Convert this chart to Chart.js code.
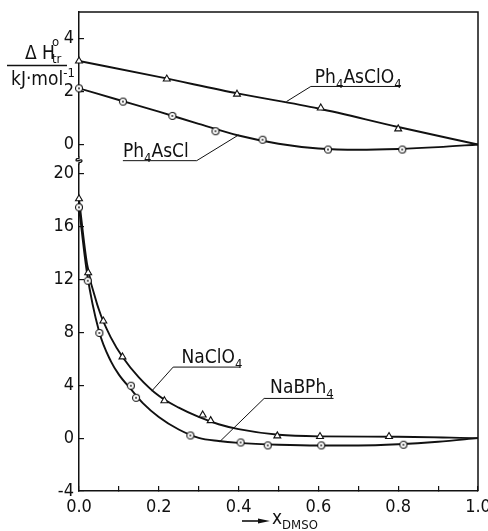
<!DOCTYPE html>
<html>
<head>
<meta charset="utf-8">
<script src="https://cdn.jsdelivr.net/npm/chart.js@4/dist/chart.umd.min.js"></script>
<style>
  html, body { margin: 0; padding: 0; background: #fff; }
  #chart { display: block; }
</style>
</head>
<body>
<canvas id="chart" width="488" height="531"></canvas>
<script>
// x axis: mole fraction of DMSO
const X_TICKS = [0, 0.1, 0.2, 0.3, 0.4, 0.5, 0.6, 0.7, 0.8, 0.9, 1.0]
const TOP_TICKS = [0, 2, 4]
const BOTTOM_TICKS = [-4, 0, 4, 8, 12, 16, 20]

// upper panel - measured points
const asclo4X = [0, 0.22, 0.396, 0.606, 0.80]
const asclo4Y = [3.15, 2.47, 1.90, 1.38, 0.59]
const asclX = [0, 0.11, 0.234, 0.342, 0.46, 0.624, 0.81]
const asclY = [2.12, 1.62, 1.08, 0.50, 0.18, -0.19, -0.19]

// upper panel - fitted curves
const asclo4CurveX = [0, 0.2, 0.4, 0.6, 0.8, 1.0]
const asclo4CurveY = [3.15, 2.55, 1.92, 1.36, 0.66, 0]
const asclCurveX = [0, 0.1, 0.2, 0.3, 0.4, 0.5, 0.6, 0.7, 0.8, 0.9, 1.0]
const asclCurveY = [2.12, 1.68, 1.24, 0.78, 0.34, 0.03, -0.15, -0.2, -0.17, -0.1, 0]

// lower panel - measured points
const naclo4X = [0, 0.023, 0.061, 0.109, 0.214, 0.31, 0.33, 0.497, 0.604, 0.777]
const naclo4Y = [18.1, 12.5, 8.85, 6.14, 2.83, 1.75, 1.32, 0.17, 0.12, 0.12]
const nabph4X = [0, 0.022, 0.051, 0.13, 0.143, 0.279, 0.405, 0.473, 0.607, 0.813]
const nabph4Y = [17.45, 11.9, 7.95, 3.96, 3.05, 0.2, -0.33, -0.55, -0.55, -0.5]

// lower panel - fitted curves
const naclo4CurveX = [0, 0.02, 0.05, 0.08, 0.11, 0.15, 0.2, 0.25, 0.3, 0.35, 0.4, 0.5, 0.6, 0.8, 1.0]
const naclo4CurveY = [18.1, 13.2, 9.7, 7.6, 6.1, 4.6, 3.2, 2.3, 1.6, 1.05, 0.68, 0.25, 0.13, 0.1, 0]
const nabph4CurveX = [0, 0.02, 0.05, 0.08, 0.1, 0.13, 0.16, 0.2, 0.25, 0.3, 0.35, 0.4, 0.5, 0.6, 0.7, 0.8, 0.9, 1.0]
const nabph4CurveY = [17.45, 12.5, 8.1, 5.8, 4.8, 3.7, 2.65, 1.6, 0.65, 0.02, -0.22, -0.36, -0.5, -0.56, -0.56, -0.47, -0.28, 0]

const INK = '#111'
const LABEL_FONT = '"Liberation Sans Narrow", "DejaVu Sans Condensed", "Liberation Sans", sans-serif'

const pts = (xs, ys) => xs.map((x, i) => ({ x: x, y: ys[i] }))

// open circle with a centre dot
function dotCircle(r) {
  const c = document.createElement('canvas')
  const s = Math.ceil(2 * r + 3)
  c.width = c.height = s
  const g = c.getContext('2d')
  g.strokeStyle = INK
  g.lineWidth = 1.1
  g.fillStyle = '#fff'
  g.beginPath(); g.arc(s / 2, s / 2, r, 0, 2 * Math.PI); g.fill(); g.stroke()
  g.fillStyle = INK
  g.beginPath(); g.arc(s / 2, s / 2, 0.9, 0, 2 * Math.PI); g.fill()
  return c
}
const circleMark = dotCircle(3.5)

function curve(xs, ys, axis) {
  return {
    type: 'line', data: pts(xs, ys), yAxisID: axis, order: 2,
    borderColor: INK, borderWidth: 1.9, pointRadius: 0,
    cubicInterpolationMode: 'monotone', fill: false
  }
}
function marks(xs, ys, axis, style) {
  return {
    type: 'line', data: pts(xs, ys), yAxisID: axis, order: 1, showLine: false,
    pointStyle: style, pointRadius: 4, borderColor: INK, backgroundColor: '#fff',
    pointBorderWidth: 1.1, clip: false
  }
}

// text runs with sub/superscripts: [text, 'sub'|'sup'|undefined]
function richText(ctx, runs, x, y, size) {
  let cx = x
  for (const [t, kind] of runs) {
    const s = kind ? Math.round(size * 0.68) : size
    const dy = kind === 'sub' ? size * 0.28 : kind === 'sup' ? -size * 0.42 : 0
    ctx.font = s + 'px ' + LABEL_FONT
    ctx.fillText(t, cx, y + dy)
    cx += ctx.measureText(t).width
  }
  return cx
}

// curve labels: text anchor + underline + leader to the curve, in data units
const callouts = [
  { axis: 'yTop', runs: [['Ph'], ['4', 'sub'], ['AsClO'], ['4', 'sub']], tx: 0.591, ty: 2.32,
    line: [[0.806, 2.19], [0.581, 2.19], [0.52, 1.62]] },
  { axis: 'yTop', runs: [['Ph'], ['4', 'sub'], ['AsCl']], tx: 0.11, ty: -0.47,
    line: [[0.11, -0.61], [0.295, -0.61], [0.40, 0.36]] },
  { axis: 'yBottom', runs: [['NaClO'], ['4', 'sub']], tx: 0.257, ty: 5.70,
    line: [[0.404, 5.37], [0.236, 5.37], [0.182, 3.55]] },
  { axis: 'yBottom', runs: [['NaBPh'], ['4', 'sub']], tx: 0.479, ty: 3.4,
    line: [[0.638, 3.0], [0.464, 3.0], [0.353, -0.26]] }
]

const annotations = {
  id: 'annotations',
  afterDatasetsDraw(chart) {
    const ctx = chart.ctx
    const xs = chart.scales.x
    const top = chart.scales.yTop
    const area = chart.chartArea
    ctx.save()
    ctx.strokeStyle = INK
    ctx.fillStyle = INK
    ctx.textBaseline = 'alphabetic'
    ctx.textAlign = 'left'

    // frame: top and right edges
    ctx.lineWidth = 1.5
    ctx.beginPath()
    ctx.moveTo(area.left, area.top)
    ctx.lineTo(area.right, area.top)
    ctx.lineTo(area.right, area.bottom)
    ctx.stroke()

    // axis break between the two panels
    const by = top.bottom
    ctx.fillStyle = '#fff'
    ctx.fillRect(area.left - 3, by - 3, 6, 6)
    ctx.fillStyle = INK
    ctx.lineWidth = 1.2
    ctx.beginPath()
    ctx.moveTo(area.left, by - 4)
    ctx.lineTo(area.left, by - 2)
    ctx.bezierCurveTo(area.left - 4, by - 2, area.left - 4, by + 2, area.left, by)
    ctx.bezierCurveTo(area.left + 4, by - 2, area.left + 4, by + 2, area.left, by + 2)
    ctx.lineTo(area.left, by + 4)
    ctx.stroke()

    // curve labels
    ctx.lineWidth = 1
    for (const c of callouts) {
      const ys = chart.scales[c.axis]
      richText(ctx, c.runs, xs.getPixelForValue(c.tx), ys.getPixelForValue(c.ty), 19)
      ctx.beginPath()
      c.line.forEach(([lx, ly], i) => {
        const px = xs.getPixelForValue(lx), py = ys.getPixelForValue(ly)
        if (i === 0) ctx.moveTo(px, py); else ctx.lineTo(px, py)
      })
      ctx.stroke()
    }

    // y axis title as a fraction
    richText(ctx, [['\u0394 H']], 25, 59, 19)
    ctx.font = '13px ' + LABEL_FONT
    ctx.fillText('o', 52, 46)
    ctx.fillText('tr', 52, 63)
    ctx.lineWidth = 1.4
    ctx.beginPath(); ctx.moveTo(7, 65.5); ctx.lineTo(67, 65.5); ctx.stroke()
    richText(ctx, [['kJ\u00b7mol'], ['-1', 'sup']], 11, 85, 19)

    // x axis title with arrow
    const ay = 521
    ctx.lineWidth = 1.6
    ctx.beginPath(); ctx.moveTo(242, ay); ctx.lineTo(262, ay); ctx.stroke()
    ctx.beginPath(); ctx.moveTo(270, ay); ctx.lineTo(258, ay - 2.5); ctx.lineTo(258, ay + 2.5); ctx.closePath(); ctx.fill()
    richText(ctx, [['x'], ['DMSO', 'sub']], 272, 524, 19)
    ctx.restore()
  }
}

const tickFont = { family: LABEL_FONT, size: 18 }
const axisBorder = { display: true, color: INK, width: 1.5 }
const inwardTicks = { drawOnChartArea: false, drawTicks: true, tickLength: -5, color: INK, lineWidth: 1.2 }

// keep the plot frame fixed: no extra room for the outer tick labels
function fixX(s) {
  s.height = 40
  s.paddingLeft = 0
  s.paddingRight = 0
}
function fixY(s) {
  s.width = 79
  s.paddingTop = 0
  s.paddingBottom = 0
}

new Chart(document.getElementById('chart'), {
  data: {
    datasets: [
      curve(asclo4CurveX, asclo4CurveY, 'yTop'),
      curve(asclCurveX, asclCurveY, 'yTop'),
      curve(naclo4CurveX, naclo4CurveY, 'yBottom'),
      curve(nabph4CurveX, nabph4CurveY, 'yBottom'),
      marks(asclo4X, asclo4Y, 'yTop', 'triangle'),
      marks(asclX, asclY, 'yTop', circleMark),
      marks(naclo4X, naclo4Y, 'yBottom', 'triangle'),
      marks(nabph4X, nabph4Y, 'yBottom', circleMark)
    ]
  },
  options: {
    responsive: false,
    animation: false,
    events: [],
    layout: { padding: { top: 12, right: 10, left: 0, bottom: 0 } },
    plugins: { legend: { display: false }, tooltip: { enabled: false } },
    scales: {
      x: {
        type: 'linear', min: 0, max: 1,
        afterBuildTicks: s => { s.ticks = X_TICKS.map(v => ({ value: v })) },
        afterFit: fixX,
        border: axisBorder,
        grid: inwardTicks,
        ticks: {
          color: INK, font: tickFont, padding: 11, autoSkip: false, maxRotation: 0,
          callback: v => Math.round(v * 10) % 2 === 0 ? v.toFixed(1) : ''
        }
      },
      yTop: {
        type: 'linear', position: 'left', stack: 'dh', stackWeight: 148.4, weight: 1,
        min: -0.6, max: 5,
        afterBuildTicks: s => { s.ticks = TOP_TICKS.map(v => ({ value: v })) },
        afterFit: fixY,
        border: axisBorder,
        grid: inwardTicks,
        ticks: { color: INK, font: tickFont, padding: 10 }
      },
      yBottom: {
        type: 'linear', position: 'left', stack: 'dh', stackWeight: 330.6, weight: 0,
        min: -4, max: 21,
        afterBuildTicks: s => { s.ticks = BOTTOM_TICKS.map(v => ({ value: v })) },
        afterFit: fixY,
        border: axisBorder,
        grid: inwardTicks,
        ticks: { color: INK, font: tickFont, padding: 10 }
      }
    }
  },
  plugins: [annotations]
})
</script>
</body>
</html>
